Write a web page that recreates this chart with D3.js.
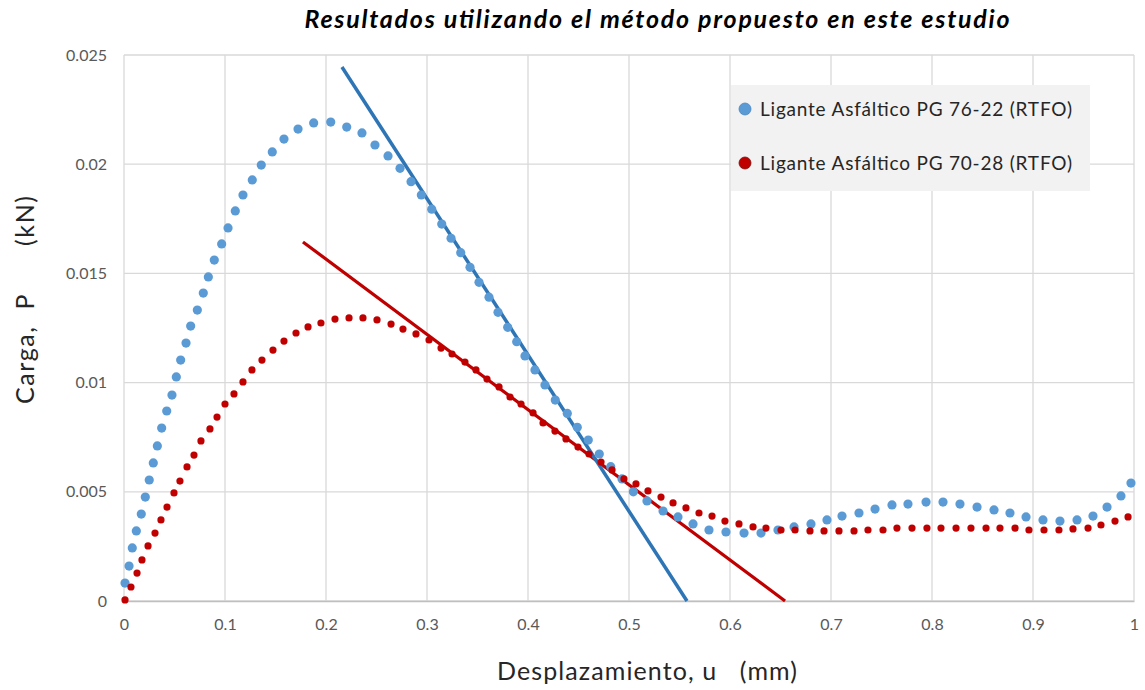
<!DOCTYPE html>
<html><head><meta charset="utf-8">
<script src="https://cdn.jsdelivr.net/npm/d3@7"></script>
<style>
body{margin:0;background:#fff;}
svg text{white-space:pre;}
</style>
</head><body>
<svg id="chart" width="1145" height="690"></svg>
<script>
// ---- data ----
const titleText = "Resultados utilizando el método propuesto en este estudio";
const xLabel = "Desplazamiento, u   (mm)";
const yLabel = "Carga,  P      (kN)";
const seriesNames = ["Ligante Asfáltico PG 76-22 (RTFO)", "Ligante Asfáltico PG 70-28 (RTFO)"];
const xTicks = [0, 0.1, 0.2, 0.3, 0.4, 0.5, 0.6, 0.7, 0.8, 0.9, 1];
const yTicks = [0, 0.005, 0.01, 0.015, 0.02, 0.025];

const blueX = [0.001,0.005,0.0082,0.0122,0.0171,0.0211,0.0250,0.0290,0.0330,0.0373,0.0423,0.0475,0.0518,0.0561,0.0614,0.0660,0.0726,0.0785,0.0835,0.0894,0.0967,0.1030,0.1102,0.1178,0.1270,0.1359,0.1468,0.1584,0.1723,0.1878,0.2047,0.2205,0.2356,0.2485,0.2614,0.2733,0.2842,0.2944,0.3047,0.3146,0.3238,0.3334,0.3426,0.3515,0.3614,0.3703,0.3799,0.3888,0.3970,0.4069,0.4168,0.4270,0.4389,0.4488,0.4597,0.4706,0.4819,0.4931,0.5043,0.5178,0.5337,0.5485,0.5634,0.5792,0.5960,0.6139,0.6307,0.6475,0.6634,0.6802,0.6960,0.7109,0.7277,0.7436,0.7604,0.7762,0.7941,0.8109,0.8277,0.8446,0.8614,0.8772,0.8931,0.9099,0.9267,0.9436,0.9594,0.9733,0.9871,0.9970];
const blueY = [0.00082,0.00160,0.00243,0.00321,0.00398,0.00476,0.00554,0.00632,0.00710,0.00792,0.00870,0.00943,0.01026,0.01103,0.01181,0.01259,0.01332,0.01410,0.01484,0.01561,0.01635,0.01708,0.01786,0.01859,0.01928,0.01996,0.02056,0.02115,0.02161,0.02189,0.02193,0.02170,0.02143,0.02088,0.02038,0.01981,0.01920,0.01859,0.01794,0.01726,0.01661,0.01595,0.01528,0.01459,0.01391,0.01322,0.01253,0.01187,0.01122,0.01058,0.00989,0.00920,0.00859,0.00795,0.00737,0.00673,0.00615,0.00559,0.00500,0.00458,0.00412,0.00385,0.00353,0.00325,0.00316,0.00311,0.00311,0.00325,0.00339,0.00353,0.00371,0.00389,0.00403,0.00421,0.00440,0.00444,0.00453,0.00453,0.00444,0.00430,0.00417,0.00403,0.00385,0.00371,0.00366,0.00371,0.00389,0.00430,0.00481,0.00540];

const redX = [0.001,0.0069,0.0129,0.0178,0.0238,0.0307,0.0366,0.0426,0.0495,0.0554,0.0624,0.0693,0.0762,0.0851,0.0921,0.1000,0.1089,0.1178,0.1267,0.1366,0.1475,0.1584,0.1703,0.1822,0.1950,0.2089,0.2228,0.2366,0.2505,0.2644,0.2762,0.2891,0.3020,0.3139,0.3248,0.3376,0.3485,0.3594,0.3713,0.3822,0.3931,0.4050,0.4149,0.4267,0.4376,0.4495,0.4604,0.4723,0.4832,0.4950,0.5069,0.5188,0.5317,0.5436,0.5564,0.5693,0.5822,0.5950,0.6089,0.6228,0.6356,0.6505,0.6644,0.6792,0.6931,0.7079,0.7228,0.7366,0.7515,0.7653,0.7802,0.7950,0.8089,0.8238,0.8386,0.8535,0.8673,0.8822,0.8960,0.9109,0.9257,0.9396,0.9545,0.9673,0.9812,0.9941];
const redY = [0.00005,0.00064,0.00128,0.00188,0.00252,0.00311,0.00371,0.00430,0.00495,0.00549,0.00614,0.00668,0.00733,0.00788,0.00842,0.00902,0.00948,0.01003,0.01058,0.01103,0.01149,0.01190,0.01227,0.01255,0.01273,0.01291,0.01296,0.01296,0.01287,0.01268,0.01245,0.01223,0.01195,0.01158,0.01131,0.01094,0.01058,0.01016,0.00980,0.00934,0.00902,0.00861,0.00815,0.00778,0.00742,0.00705,0.00673,0.00636,0.00600,0.00559,0.00536,0.00504,0.00476,0.00449,0.00426,0.00403,0.00389,0.00366,0.00353,0.00339,0.00334,0.00325,0.00325,0.00321,0.00321,0.00321,0.00321,0.00325,0.00325,0.00334,0.00334,0.00334,0.00334,0.00334,0.00334,0.00334,0.00334,0.00334,0.00325,0.00325,0.00325,0.00330,0.00334,0.00348,0.00366,0.00385];

// tangent (trend) lines: [x1, y1, x2, y2]
const blueTrendX = [0.2158, 0.5574];
const blueTrendY = [0.02445, 0];
const redTrendX = [0.1772, 0.6545];
const redTrendY = [0.01644, 0];

// ---- chart ----
const svg = d3.select("#chart");
const m = {left:124, right:1134, top:55, bottom:601};
const x = d3.scaleLinear().domain([0,1]).range([m.left, m.right]);
const y = d3.scaleLinear().domain([0,0.025]).range([m.bottom, m.top]);
const font = "Lato, 'Open Sans', sans-serif";

// gridlines
svg.append("g").selectAll("line.v").data(xTicks).join("line")
  .attr("x1", d=>x(d)).attr("x2", d=>x(d)).attr("y1", m.top).attr("y2", m.bottom)
  .attr("stroke", "#d9d9d9").attr("stroke-width", 1.3);
svg.append("g").selectAll("line.h").data(yTicks).join("line")
  .attr("x1", m.left).attr("x2", m.right).attr("y1", d=>y(d)).attr("y2", d=>y(d))
  .attr("stroke", "#d9d9d9").attr("stroke-width", 1.3);

// axes
const xAxis = svg.append("g").attr("transform", `translate(0,${m.bottom})`)
  .call(d3.axisBottom(x).tickValues(xTicks).tickSize(0).tickPadding(18).tickFormat(d=>String(d)));
const yAxis = svg.append("g").attr("transform", `translate(${m.left},0)`)
  .call(d3.axisLeft(y).tickValues(yTicks).tickSize(0).tickPadding(17).tickFormat(d=>String(d)));
xAxis.select(".domain").attr("stroke", "#bfbfbf").attr("stroke-width", 1.5);
yAxis.select(".domain").remove();
[xAxis, yAxis].forEach(a => a.selectAll("text").attr("fill", "#595959")
  .style("font-family", font).style("font-size", "16px"));

// trend lines
const line = d3.line().x(d=>x(d[0])).y(d=>y(d[1]));
svg.append("path").datum(d3.zip(redTrendX, redTrendY)).attr("d", line)
  .attr("stroke", "#c00000").attr("stroke-width", 3.2).attr("fill", "none");
svg.append("path").datum(d3.zip(blueTrendX, blueTrendY)).attr("d", line)
  .attr("stroke", "#2e75b6").attr("stroke-width", 3.5).attr("fill", "none");

// points
svg.append("g").selectAll("circle").data(d3.zip(blueX, blueY)).join("circle")
  .attr("cx", d=>x(d[0])).attr("cy", d=>y(d[1])).attr("r", 4.6).attr("fill", "#5b9bd5");
svg.append("g").selectAll("circle").data(d3.zip(redX, redY)).join("circle")
  .attr("cx", d=>x(d[0])).attr("cy", d=>y(d[1])).attr("r", 3.6).attr("fill", "#c00000");

// legend
const lg = svg.append("g");
lg.append("rect").attr("x", 731).attr("y", 85).attr("width", 359).attr("height", 106).attr("fill", "#f2f2f2");
const lc = ["#5b9bd5", "#c00000"];
seriesNames.forEach((n,i)=>{
  const cy = 109 + i*54;
  lg.append("circle").attr("cx", 745).attr("cy", cy).attr("r", 6).attr("fill", lc[i])
    .attr("stroke", i===1 ? "#7a1010" : "#4a86c0").attr("stroke-width", 0.8);
  lg.append("text").attr("x", 760).attr("y", cy).attr("dy", "0.36em").text(n)
    .attr("textLength", 312).attr("lengthAdjust", "spacing")
    .style("font-family", font).style("font-size", "19px").attr("fill", "#262626");
});

// titles
svg.append("text").attr("x", 657).attr("y", 28).attr("text-anchor", "middle").text(titleText)
  .attr("textLength", 705).attr("lengthAdjust", "spacing")
  .style("font-family", font).style("font-size", "25px").style("font-weight", "bold").style("font-style", "italic").attr("fill", "#000");
svg.append("text").attr("x", 647).attr("y", 680).attr("text-anchor", "middle").text(xLabel)
  .attr("textLength", 300).attr("lengthAdjust", "spacing")
  .style("font-family", font).style("font-size", "25px").attr("fill", "#262626");
svg.append("text").attr("transform", "translate(34,300) rotate(-90)").attr("text-anchor", "middle").text(yLabel)
  .attr("textLength", 208).attr("lengthAdjust", "spacing")
  .style("font-family", font).style("font-size", "25px").attr("fill", "#262626");
</script>
</body></html>
